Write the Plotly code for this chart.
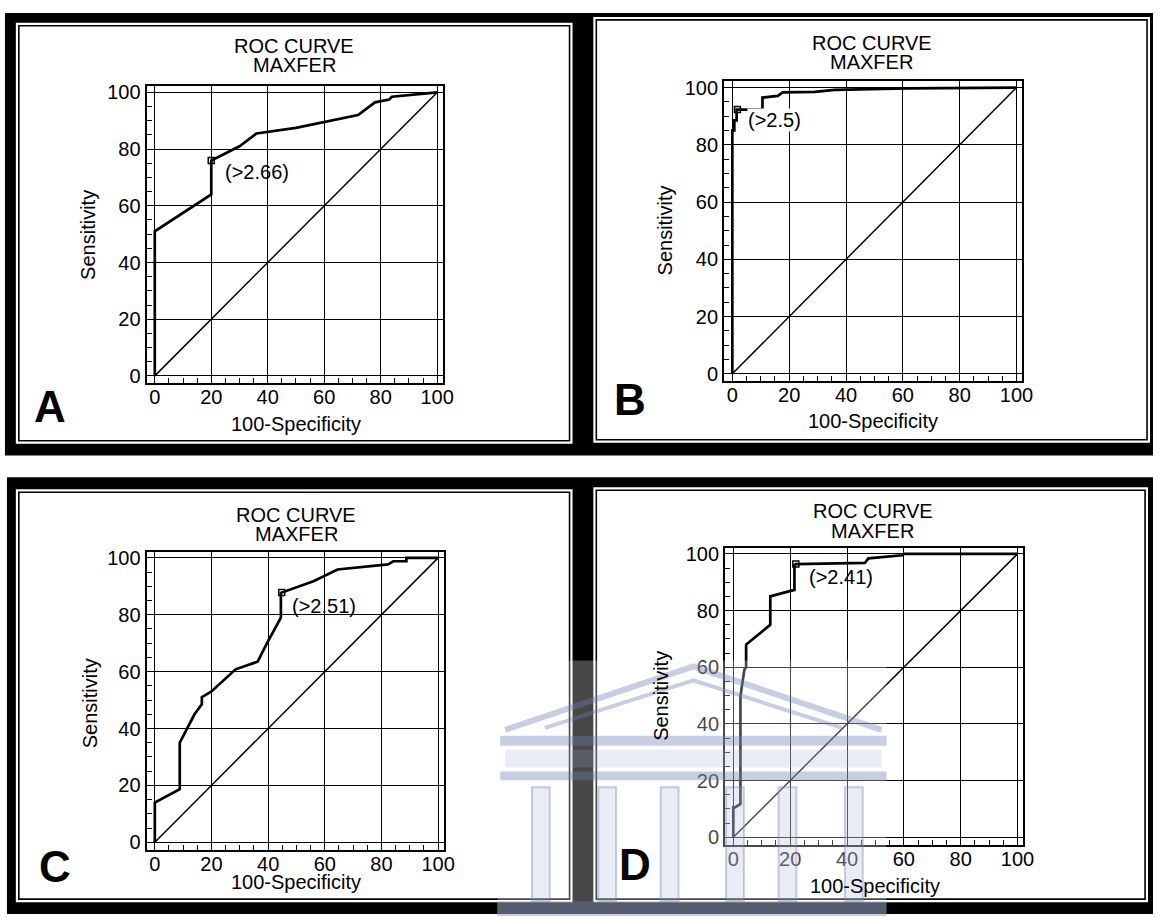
import plotly.graph_objects as go

W, H = 1164, 920

# ---------------- data ----------------
panels = ["A", "B", "C", "D"]

fpr_a = [0, 0, 20, 20, 30, 36, 50, 60, 72, 78, 83, 84, 100]
tpr_a = [0, 51, 64, 76, 81, 85.5, 87.5, 89.5, 92, 96.5, 97.5, 98.5, 100]

fpr_b = [0, 0, 0.7, 0.7, 1.5, 1.5, 10.6, 10.6, 16, 17.7, 29, 36, 62, 100]
tpr_b = [0, 85, 85, 88.5, 88.5, 92.3, 92.3, 96.5, 97.1, 98.3, 98.5, 99.2, 99.7, 100]

fpr_c = [0, 0, 8.8, 8.8, 14, 16.6, 16.6, 20, 28.5, 36.3, 39.6, 44.5, 44.5, 46.2, 56, 64.5, 82.3, 84.2, 88.8, 88.8, 100]
tpr_c = [0, 14, 18.7, 35, 45, 48.5, 51, 53, 60.8, 63.5, 70, 79, 87.7, 88.3, 91.8, 95.9, 97.7, 98.8, 98.8, 100, 100]

fpr_d = [0, 0, 0.6, 2.5, 2.5, 3.9, 4.5, 4.5, 13, 13, 21.5, 21.5, 22, 39.8, 46.3, 47.5, 59.4, 60, 100]
tpr_d = [0, 10.6, 10.6, 11.8, 49.8, 59.2, 60, 68, 75, 85, 87.3, 96, 96.4, 96.8, 96.8, 98.4, 99.5, 100, 100]

op_x = [20, 1.8, 44.8, 22]          # operating (criterion) points
op_y = [76, 92.3, 87.8, 96.4]
crit_labels = ["(>2.66)", "(>2.5)", "(>2.51)", "(>2.41)"]
crit_x = [24.5, 5.0, 48.2, 26.2]
crit_y = [72, 88.5, 83.2, 92]

tick_vals = [0, 20, 40, 60, 80, 100]
tick_text = ["0", "20", "40", "60", "80", "100"]
title_1 = "ROC CURVE"
title_2 = "MAXFER"
x_title = "100-Specificity"
y_title = "Sensitivity"

curves_x = [fpr_a, fpr_b, fpr_c, fpr_d]
curves_y = [tpr_a, tpr_b, tpr_c, tpr_d]

# ---------------- layout geometry (pixels) ----------------
frames = {"A": (148, 82, 447, 382), "B": (731, 77, 1032, 380),
          "C": (148, 552, 448, 853), "D": (732, 548, 1033, 848)}
panel_boxes = {"A": (16, 18, 578, 443), "B": (599, 12, 1161, 442),
               "C": (16, 489, 578, 906), "D": (599, 487, 1159, 906)}
title_pos = {"A": (297, 41, 61), "B": (880, 38, 58), "C": (299, 515, 534), "D": (881, 511, 531)}
ylab_pos = {"A": (89, 232), "B": (671, 228), "C": (91, 705), "D": (667, 698)}
xlab_pos = {"A": (299, 423), "B": (881, 420), "C": (299, 886), "D": (883, 890)}
letter_pos = {"A": (50, 405), "B": (636, 398), "C": (56, 870), "D": (641, 868)}

def px(x):
    return x / W

def py(y):
    return 1 - y / H

FONT = "Arial, 'Liberation Sans', Helvetica, sans-serif"
FS = 20

fig = go.Figure()
shapes = []
annotations = []

# black backing strips (two scanned strips)
shapes.append(dict(type="rect", xref="paper", yref="paper", x0=px(5), x1=px(1164), y0=py(455), y1=py(8),
                   fillcolor="black", line=dict(width=0), layer="below"))
shapes.append(dict(type="rect", xref="paper", yref="paper", x0=px(7), x1=px(1164), y0=py(918), y1=py(477),
                   fillcolor="black", line=dict(width=0), layer="below"))

for i, p in enumerate(panels):
    n = "" if i == 0 else str(i + 1)
    x0, y0, x1, y1 = panel_boxes[p]
    shapes.append(dict(type="rect", xref="paper", yref="paper", x0=px(x0), x1=px(x1), y0=py(y1), y1=py(y0),
                       fillcolor="white", line=dict(width=0), layer="below"))
    shapes.append(dict(type="rect", xref="paper", yref="paper", x0=px(x0 + 3), x1=px(x1 - 3), y0=py(y1 - 3),
                       y1=py(y0 + 3), fillcolor="rgba(0,0,0,0)", line=dict(width=1.6, color="black"),
                       layer="below"))
    fx0, fy0, fx1, fy1 = frames[p]
    axis_common = dict(showline=True, linecolor="black", linewidth=2, mirror=True,
                       showgrid=True, gridcolor="black", gridwidth=1.4,
                       zeroline=True, zerolinecolor="black", zerolinewidth=1.4,
                       tickvals=tick_vals, ticktext=tick_text,
                       ticks="",
                       tickfont=dict(family=FONT, size=FS, color="black"),
                       minor=dict(dtick=5, tick0=0, ticks="inside", ticklen=5, tickwidth=1.3,
                                  tickcolor="black", showgrid=False),
                       fixedrange=True)
    fig.update_layout(**{
        "xaxis" + n: dict(domain=[px(fx0), px(fx1)], range=[-2.9, 102.0], anchor="y" + n,
                          ticklabelstandoff=-5, **axis_common),
        "yaxis" + n: dict(domain=[py(fy1), py(fy0)], range=[-2.6, 102.2], anchor="x" + n,
                          **axis_common),
    })
    xr, yr = "x" + n, "y" + n
    # diagonal reference line
    fig.add_trace(go.Scatter(x=[0, 100], y=[0, 100], mode="lines", xaxis=xr, yaxis=yr,
                             line=dict(color="black", width=1.5), showlegend=False, hoverinfo="skip"))
    # ROC curve
    fig.add_trace(go.Scatter(x=curves_x[i], y=curves_y[i], mode="lines", xaxis=xr, yaxis=yr,
                             line=dict(color="black", width=2.7), showlegend=False))
    # criterion point
    fig.add_trace(go.Scatter(x=[op_x[i]], y=[op_y[i]], mode="markers", xaxis=xr, yaxis=yr,
                             marker=dict(symbol="square-open", size=6, color="black",
                                         line=dict(width=1.5, color="black")),
                             showlegend=False))
    annotations.append(dict(x=crit_x[i], y=crit_y[i], xref=xr, yref=yr, text=crit_labels[i],
                            showarrow=False, xanchor="left", yanchor="middle", borderpad=0,
                            bgcolor="white" if p == "B" else "rgba(0,0,0,0)",
                            font=dict(family=FONT, size=FS, color="black")))
    cx, t1, t2 = title_pos[p]
    for txt, ty in ((title_1, t1), (title_2, t2)):
        annotations.append(dict(x=px(cx), y=py(ty), xref="paper", yref="paper", text=txt, showarrow=False,
                                xanchor="center", yanchor="middle",
                                font=dict(family=FONT, size=FS, color="black")))
    lx, ly = ylab_pos[p]
    annotations.append(dict(x=px(lx), y=py(ly), xref="paper", yref="paper", text=y_title, showarrow=False,
                            textangle=-90, xanchor="center", yanchor="middle",
                            font=dict(family=FONT, size=FS, color="black")))
    lx, ly = xlab_pos[p]
    annotations.append(dict(x=px(lx), y=py(ly), xref="paper", yref="paper", text=x_title, showarrow=False,
                            xanchor="center", yanchor="middle",
                            font=dict(family=FONT, size=FS, color="black")))
    lx, ly = letter_pos[p]
    annotations.append(dict(x=px(lx), y=py(ly), xref="paper", yref="paper", text="<b>" + p + "</b>",
                            showarrow=False, xanchor="center", yanchor="middle",
                            font=dict(family=FONT, size=44, color="black")))

# ---------------- faint watermark (building logo) over the lower middle ----------------
WM = "rgba(110,125,180,0.38)"
WM_LIGHT = "rgba(160,170,210,0.22)"
wm = []
wm.append(dict(type="rect", x0=502, x1=895, y0=662, y1=920, fillcolor="rgba(255,255,255,0.28)", lw=0))
# pediment (two nested roof lines)
wm.append(dict(type="path", path=[(510, 732), (700, 668), (890, 732)], lw=6))
wm.append(dict(type="path", path=[(550, 730), (700, 682), (850, 730)], lw=4))
# entablature bands
wm.append(dict(type="rect", x0=505, x1=895, y0=738, y1=748, fillcolor=WM, lw=0))
wm.append(dict(type="rect", x0=510, x1=890, y0=752, y1=770, fillcolor=WM_LIGHT, lw=0))
wm.append(dict(type="rect", x0=505, x1=895, y0=774, y1=783, fillcolor=WM, lw=0))
# columns
for cxp in [546, 613, 676, 742, 795, 862]:
    wm.append(dict(type="rect", x0=cxp - 9, x1=cxp + 9, y0=790, y1=905, fillcolor=WM_LIGHT, lw=2))
wm.append(dict(type="rect", x0=502, x1=895, y0=905, y1=920, fillcolor=WM, lw=0))

for s in wm:
    if s["type"] == "rect":
        shapes.append(dict(type="rect", xref="paper", yref="paper", x0=px(s["x0"]), x1=px(s["x1"]),
                           y0=py(s["y1"]), y1=py(s["y0"]), fillcolor=s["fillcolor"],
                           line=dict(width=s["lw"], color=WM), layer="above"))
    else:
        pts = s["path"]
        path = "M " + " L ".join(f"{px(a):.5f},{py(b):.5f}" for a, b in pts)
        shapes.append(dict(type="path", xref="paper", yref="paper", path=path,
                           line=dict(width=s["lw"], color=WM), layer="above"))

fig.update_layout(width=W, height=H, margin=dict(l=0, r=0, t=0, b=0),
                  paper_bgcolor="white", plot_bgcolor="white",
                  shapes=shapes, annotations=annotations, showlegend=False)

fig.write_html("out.html", config={"displayModeBar": False},
               post_script="document.body.style.margin='0';document.body.style.padding='0';")
